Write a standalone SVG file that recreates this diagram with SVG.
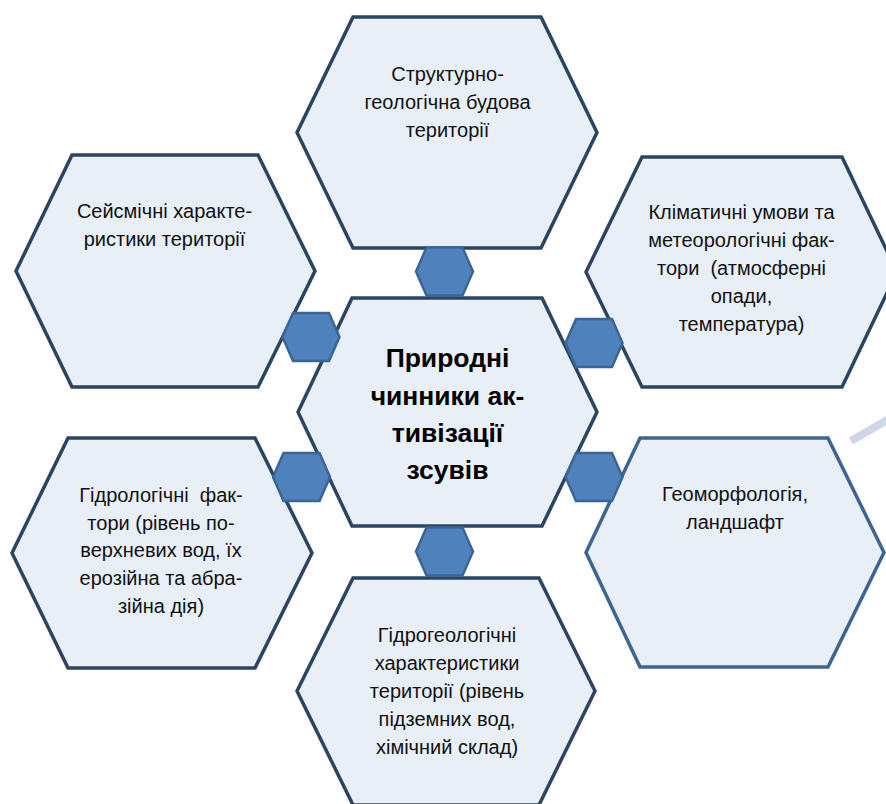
<svg xmlns="http://www.w3.org/2000/svg" xmlns:xlink="http://www.w3.org/1999/xlink" width="886" height="804" viewBox="0 0 886 804">
<style>
.big{fill:#E9EFF7;stroke:#2B4462;stroke-width:3.5;stroke-linejoin:miter}
.big2{fill:#E9EFF7;stroke:#3C6591;stroke-width:3.5}
.t{font-family:"Liberation Sans",Arial,sans-serif;font-size:20px;fill:#111;text-anchor:middle}
.tb{font-family:"Liberation Sans",Arial,sans-serif;font-size:26.5px;font-weight:bold;fill:#000;text-anchor:middle}
.small{fill:#4F81BD;stroke:#3A6594;stroke-width:2.5}
</style>
<defs>
<polygon id="sh" points="-28.5,0 -18,-24 18,-24 28.5,0 18,24 -18,24"/>
</defs>
<rect width="886" height="804" fill="#FFFFFF"/>
<line x1="851" y1="441" x2="892" y2="417" stroke="#CFD7E7" stroke-width="8"/>

<g id="node-structure">
<polygon class="big" points="353,17 541,17 597,132.5 541,248 353,248 297,132.5"/>
<text class="t" x="447.5" y="80.5">Структурно-</text>
<text class="t" x="447.5" y="108.5">геологічна будова</text>
<text class="t" x="447.5" y="136.5">території</text>
</g>

<g id="node-climate">
<polygon class="big" points="642,157 842,157 897,272 842,387 642,387 586,272"/>
<text class="t" x="741.5" y="219">Кліматичні умови та</text>
<text class="t" x="741.5" y="247">метеорологічні фак-</text>
<text class="t" x="741.5" y="275" xml:space="preserve">тори  (атмосферні</text>
<text class="t" x="741.5" y="303">опади,</text>
<text class="t" x="741.5" y="331">температура)</text>
</g>

<g id="node-geomorph">
<polygon class="big2" points="640,438 828,438 884,552.5 828,667 640,667 586,552.5"/>
<text class="t" x="735" y="500.5">Геоморфологія,</text>
<text class="t" x="735" y="528.5">ландшафт</text>
</g>

<g id="node-seismic">
<polygon class="big" points="72,155 258,155 315,271 258,387 72,387 16,271"/>
<text class="t" x="164.5" y="218">Сейсмічні характе-</text>
<text class="t" x="164.5" y="246">ристики території</text>
</g>

<g id="node-hydrology">
<polygon class="big" points="68,438 255,438 312,553 255,668 68,668 12,553"/>
<text class="t" x="161" y="501.5" xml:space="preserve">Гідрологічні  фак-</text>
<text class="t" x="161" y="529.5">тори (рівень по-</text>
<text class="t" x="161" y="557">верхневих вод, їх</text>
<text class="t" x="161" y="585">ерозійна та абра-</text>
<text class="t" x="161" y="612.5">зійна дія)</text>
</g>

<g id="node-hydrogeology">
<polygon class="big" points="353,578 539,578 595,691 539,805 353,805 297,691"/>
<text class="t" x="447" y="642">Гідрогеологічні</text>
<text class="t" x="447" y="670">характеристики</text>
<text class="t" x="447" y="698">території (рівень</text>
<text class="t" x="447" y="726">підземних вод,</text>
<text class="t" x="447" y="754">хімічний склад)</text>
</g>

<g id="node-center">
<polygon class="big" points="352,298 542,298 597,412 542,526 352,526 298,412"/>
<text class="tb" x="447.5" y="367">Природні</text>
<text class="tb" x="447.5" y="404.5">чинники ак-</text>
<text class="tb" x="447.5" y="442">тивізації</text>
<text class="tb" x="447.5" y="479">зсувів</text>
</g>

<g id="connectors">
<use xlink:href="#sh" href="#sh" class="small" x="444.5" y="271.5"/>
<use xlink:href="#sh" href="#sh" class="small" x="311" y="337"/>
<use xlink:href="#sh" href="#sh" class="small" x="594" y="343"/>
<use xlink:href="#sh" href="#sh" class="small" x="301.5" y="477"/>
<use xlink:href="#sh" href="#sh" class="small" x="594" y="477"/>
<use xlink:href="#sh" href="#sh" class="small" x="444.5" y="551.5"/>
</g>
</svg>
